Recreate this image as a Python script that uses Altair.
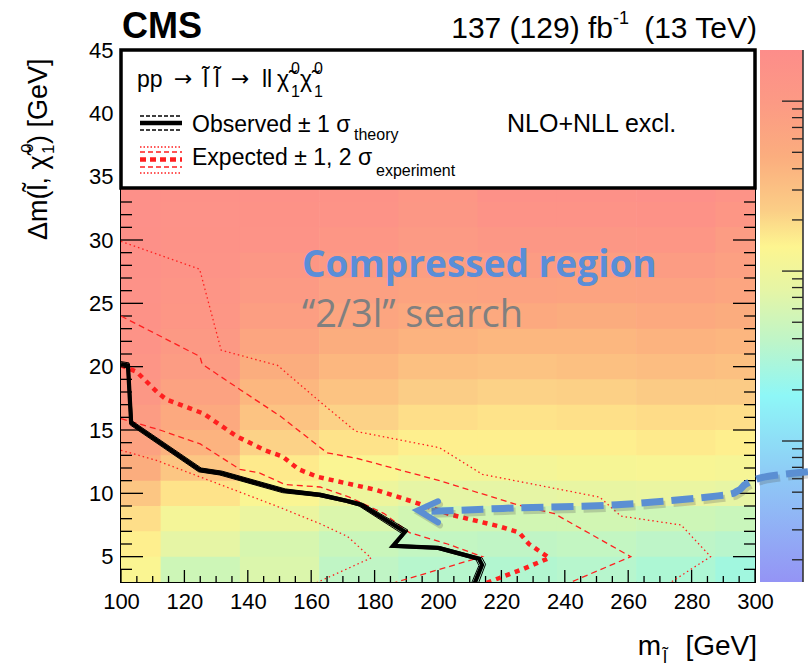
import math
import altair as alt
import pandas as pd

FONT = "Liberation Sans, Arial, Helvetica, sans-serif"
W, H = 634, 532
X_DOM = [100, 300]
Y_DOM = [3, 45]

# ---------------- data ----------------
# heat map: 25 GeV wide columns (centres) and 2 GeV tall rows (centres)
x_centers = [100, 125, 150, 175, 200, 225, 250, 275, 300]
y_centers = [4, 6, 8, 10, 12, 14, 16, 18, 20, 22, 24, 26, 28, 30, 32, 34]
# upper limit on the cross section (pb), per column, bottom -> top
limit_100 = [0.13, 0.15, 0.185, 0.27, 0.47, 0.72, 0.9, 1.12, 1.3, 1.4, 1.5, 1.55, 1.61, 1.67, 1.73, 1.73]
limit_125 = [0.054, 0.078, 0.112, 0.173, 0.27, 0.41, 0.54, 0.72, 0.9, 1.04, 1.21, 1.3, 1.4, 1.5, 1.55, 1.61]
limit_150 = [0.067, 0.063, 0.09, 0.129, 0.16, 0.215, 0.29, 0.38, 0.47, 0.63, 0.84, 0.97, 1.12, 1.4, 1.5, 1.61]
limit_175 = [0.041, 0.05, 0.067, 0.096, 0.129, 0.173, 0.215, 0.29, 0.38, 0.47, 0.63, 0.78, 0.97, 1.21, 1.4, 1.5]
limit_200 = [0.035, 0.044, 0.058, 0.078, 0.112, 0.15, 0.185, 0.23, 0.31, 0.41, 0.54, 0.68, 0.84, 0.97, 1.12, 1.21]
limit_225 = [0.033, 0.041, 0.058, 0.078, 0.112, 0.15, 0.173, 0.215, 0.29, 0.38, 0.54, 0.72, 0.9, 1.12, 1.4, 1.61]
limit_250 = [0.035, 0.044, 0.058, 0.084, 0.12, 0.15, 0.18, 0.22, 0.31, 0.38, 0.5, 0.68, 0.84, 1.12, 1.4, 1.61]
limit_275 = [0.031, 0.039, 0.054, 0.088, 0.125, 0.16, 0.19, 0.24, 0.33, 0.41, 0.54, 0.72, 0.9, 1.21, 1.5, 1.73]
limit_300 = [0.026, 0.036, 0.05, 0.08, 0.118, 0.15, 0.185, 0.24, 0.31, 0.39, 0.5, 0.63, 0.78, 0.9, 1.21, 1.4]
limit_cols = [limit_100, limit_125, limit_150, limit_175, limit_200, limit_225, limit_250, limit_275, limit_300]

# exclusion contours (m_slepton, delta m)
obs_x = [100, 102.2, 103.2, 124.9, 131.5, 151.4, 162.8, 171.3, 175.7, 189.6, 185.8, 200.0, 212.9, 213.9, 211.4]
obs_y = [20.2, 20.1, 15.56, 11.85, 11.6, 10.2, 9.88, 9.4, 9.1, 6.96, 5.85, 5.7, 4.83, 4.35, 2.8]
obs_up_x = [100, 102.5, 103.6, 125.3, 131.9, 151.8, 163.2, 171.8, 176.3, 190.5, 186.8, 200.6, 213.9, 215.0, 212.6]
obs_up_y = [20.4, 20.3, 15.7, 12.0, 11.75, 10.35, 10.0, 9.5, 9.2, 7.1, 5.95, 5.8, 4.9, 4.4, 2.8]
obs_dn_x = [100, 101.9, 102.9, 124.5, 131.1, 151.0, 162.4, 170.8, 175.1, 188.8, 185.0, 199.4, 212.0, 212.9, 210.4]
obs_dn_y = [20.0, 19.9, 15.4, 11.7, 11.45, 10.05, 9.75, 9.3, 9.0, 6.8, 5.75, 5.6, 4.75, 4.3, 2.8]

exp_x = [100, 104.9, 111.8, 114.4, 126.0, 136.5, 145.4, 151.0, 156.0, 162.0, 180.0, 192.6, 204.3, 219.2, 225.6, 228.7, 235.1, 226.6, 213.9]
exp_y = [20.1, 19.6, 17.9, 17.4, 16.3, 14.5, 13.4, 12.9, 11.9, 11.3, 10.3, 9.3, 8.3, 7.4, 6.9, 6.0, 4.9, 4.0, 2.8]
exp_p1_x = [100, 124.9, 125.6, 137.5, 150.2, 165.0, 174.6, 200.5, 225.0, 236.7, 260.8, 240.2]
exp_p1_y = [24.0, 20.8, 20.2, 18.2, 16.1, 13.2, 12.75, 11.0, 9.1, 8.4, 5.0, 2.8]
exp_m1_x = [100, 112.3, 125.0, 137.5, 143.8, 151.7, 162.8, 172.0, 183.0, 191.0, 203.0, 214.0, 184.3]
exp_m1_y = [15.9, 15.0, 13.9, 11.9, 11.6, 10.7, 10.5, 9.7, 8.4, 6.9, 6.0, 5.0, 2.8]
exp_p2_x = [100, 124.8, 131.6, 149.4, 162.0, 174.0, 200.5, 214.0, 251.0, 257.7, 276.7, 286.0, 272.3]
exp_p2_y = [29.9, 27.7, 21.3, 20.1, 17.4, 14.9, 13.6, 11.5, 9.7, 8.2, 7.5, 5.0, 2.8]
exp_m2_x = [100, 111.2, 137.5, 150.0, 162.8, 171.4, 178.9, 160.4]
exp_m2_y = [13.4, 12.6, 10.1, 8.9, 7.6, 6.6, 4.9, 2.8]

# annotation arrow
arrow_x = [316.7, 303.2, 297.2, 294.6, 288.3, 256.5, 224.6, 200.0, 195.5]
arrow_y = [11.7, 11.3, 10.75, 10.2, 9.8, 9.1, 8.85, 8.6, 8.65]
head_x = [200.0, 193.7, 200.0]
head_y = [9.37, 8.66, 7.71]

# axis ticks / labels
x_labels = [100, 120, 140, 160, 180, 200, 220, 240, 260, 280, 300]
x_minor = [v for v in range(105, 300, 5) if v % 20 != 0]
y_labels = [5, 10, 15, 20, 25, 30, 35, 40, 45]
y_major = [5, 10, 15, 20, 25, 30]
y_minor = [v for v in range(4, 34) if v % 5 != 0]

# colour bar (log scale, pb) and its ticks
cbar_domain = [0.00148, 0.00627, 0.01848, 0.038, 0.0781, 0.139, 0.2302, 0.4733, 0.9729, 2.0]
cbar_range = ["#9494f5", "#8ecaf6", "#8ef7f7", "#bdf5c9", "#e6f5a5", "#fdf590",
              "#fbcd86", "#fbad7e", "#fc9a84", "#fd8d8a"]
cbar_major = [0.01, 0.1, 1.0]
cbar_minor = [0.002, 0.003, 0.004, 0.005, 0.006, 0.007, 0.008, 0.009,
              0.02, 0.03, 0.04, 0.05, 0.06, 0.07, 0.08, 0.09,
              0.2, 0.3, 0.4, 0.5, 0.6, 0.7, 0.8, 0.9]

RED = "#ff1f1f"
BLUE = "#5b8fd3"

# ---------------- helpers ----------------
xsc = alt.Scale(domain=X_DOM, nice=False, zero=False, padding=0)
ysc = alt.Scale(domain=Y_DOM, nice=False, zero=False, padding=0)
csc = alt.Scale(type="log", domain=[cbar_domain[0], cbar_domain[-1]], nice=False)
GEV_PER_PX_X = (X_DOM[1] - X_DOM[0]) / W
GEV_PER_PX_Y = (Y_DOM[1] - Y_DOM[0]) / H
CB_X0, CB_X1 = W + 5, W + 48     # colour bar left / right edge (px)


def line_df(xs, ys):
    return pd.DataFrame({"x": xs, "y": ys, "i": list(range(len(xs)))})


def curve(xs, ys, color, width, dash=None, interp="linear", opacity=1.0,
          clip=True, xoff=0, yoff=0, cap="butt"):
    kw = dict(color=color, strokeWidth=width, interpolate=interp, clip=clip,
              opacity=opacity, strokeCap=cap)
    if dash:
        kw["strokeDash"] = dash
    if xoff:
        kw["xOffset"] = xoff
    if yoff:
        kw["yOffset"] = yoff
    return alt.Chart(line_df(xs, ys)).mark_line(**kw).encode(
        x=alt.X("x:Q", scale=xsc, axis=None),
        y=alt.Y("y:Q", scale=ysc, axis=None),
        order="i:Q",
    )


def xticks(values, length_px):
    df = pd.DataFrame({"v": values,
                       "a": [Y_DOM[0]] * len(values),
                       "b": [Y_DOM[0] + length_px * GEV_PER_PX_Y] * len(values)})
    return alt.Chart(df).mark_rule(color="black", strokeWidth=1.3).encode(
        x=alt.X("v:Q", scale=xsc, axis=None),
        y=alt.Y("a:Q", scale=ysc, axis=None), y2="b:Q")


def yticks(values, length_px, side):
    if side == "left":
        a, b = X_DOM[0], X_DOM[0] + length_px * GEV_PER_PX_X
    else:
        a, b = X_DOM[1] - length_px * GEV_PER_PX_X, X_DOM[1]
    df = pd.DataFrame({"v": values, "a": [a] * len(values), "b": [b] * len(values)})
    return alt.Chart(df).mark_rule(color="black", strokeWidth=1.3).encode(
        y=alt.Y("v:Q", scale=ysc, axis=None),
        x=alt.X("a:Q", scale=xsc, axis=None), x2="b:Q")


def cbticks(values, length_px):
    return alt.Chart(pd.DataFrame({"v": values})).mark_rule(
        color="#222222", strokeWidth=1.3).encode(
        y=alt.Y("v:Q", scale=csc, axis=None),
        x=alt.value(CB_X1 - length_px), x2=alt.value(CB_X1))


def txt(s, x, y, size, color="black", weight="normal", align="left", angle=0, font=FONT):
    kw = dict(align=align, baseline="alphabetic", fontSize=size, font=font,
              fontWeight=weight, color=color)
    if angle:
        kw["angle"] = angle
    return alt.Chart(pd.DataFrame({"t": [s]})).mark_text(**kw).encode(
        x=alt.value(x), y=alt.value(y), text="t:N")


def sample(y, color, width, dash=None, x0=19, x1=61):
    kw = dict(color=color, strokeWidth=width)
    if dash:
        kw["strokeDash"] = dash
    return alt.Chart(pd.DataFrame({"a": [0]})).mark_rule(**kw).encode(
        x=alt.value(x0), x2=alt.value(x1), y=alt.value(y))


# ---------------- heat map ----------------
rows = []
for xc, col in zip(x_centers, limit_cols):
    for yc, v in zip(y_centers, col):
        # cells overlap a hair so that no anti-aliasing seams show
        rows.append({"x0": xc - 12.5, "x1": xc + 12.7, "y0": yc - 1, "y1": yc + 1.06, "limit": v})
heat = pd.DataFrame(rows)

cscale = alt.Scale(type="log", domain=cbar_domain, range=cbar_range)

heat_layer = alt.Chart(heat).mark_rect(clip=True).encode(
    x=alt.X("x0:Q", scale=xsc,
            axis=alt.Axis(values=x_labels, ticks=False, domain=False, grid=False,
                          labelFont=FONT, labelFontSize=22, labelColor="black",
                          labelPadding=9, labelOverlap=False, labelFlush=False,
                          title=None)),
    x2="x1:Q",
    y=alt.Y("y0:Q", scale=ysc,
            axis=alt.Axis(values=y_labels, ticks=False, domain=False, grid=False,
                          labelFont=FONT, labelFontSize=22, labelColor="black",
                          labelPadding=8, labelOverlap=False, labelFlush=False,
                          title=None)),
    y2="y1:Q",
    color=alt.Color("limit:Q", scale=cscale, legend=None),
)

layers = [heat_layer]

# colour bar: same colour stops as the heat-map scale, placed on a log axis
lo, hi = math.log10(cbar_domain[0]), math.log10(cbar_domain[-1])
grad = alt.LinearGradient(
    gradient="linear", x1=0, x2=0, y1=1, y2=0,
    stops=[alt.GradientStop(offset=(math.log10(d) - lo) / (hi - lo), color=c)
           for d, c in zip(cbar_domain, cbar_range)])
layers.append(alt.Chart(pd.DataFrame({"a": [0]})).mark_rect(fill=grad).encode(
    x=alt.value(CB_X0), x2=alt.value(CB_X1), y=alt.value(0), y2=alt.value(H)))
layers.append(cbticks(cbar_major, 21))
layers.append(cbticks(cbar_minor, 11))
layers.append(alt.Chart(pd.DataFrame({"a": [0]})).mark_rule(
    color="#333333", strokeWidth=1.6).encode(
    x=alt.value(CB_X1), y=alt.value(0), y2=alt.value(H)))

# inward ticks
layers.append(xticks(x_labels, 12))
layers.append(xticks(x_minor, 6))
layers.append(yticks(y_major, 22, "left"))
layers.append(yticks(y_minor, 11, "left"))
layers.append(yticks(y_major, 22, "right"))
layers.append(yticks(y_minor, 11, "right"))

# expected contours
layers.append(curve(exp_p2_x, exp_p2_y, RED, 1.3, dash=[1.5, 3]))
layers.append(curve(exp_m2_x, exp_m2_y, RED, 1.3, dash=[1.5, 3]))
layers.append(curve(exp_p1_x, exp_p1_y, RED, 1.3, dash=[6, 4]))
layers.append(curve(exp_m1_x, exp_m1_y, RED, 1.3, dash=[6, 4]))
layers.append(curve(exp_x, exp_y, RED, 4.5, dash=[5, 5]))

# observed
layers.append(curve(obs_up_x, obs_up_y, "black", 1.0))
layers.append(curve(obs_dn_x, obs_dn_y, "black", 1.0))
layers.append(curve(obs_x, obs_y, "black", 4.2))

# annotation arrow with shadow
layers.append(curve(arrow_x, arrow_y, "#555555", 7, dash=[22, 8], interp="cardinal",
                    opacity=0.25, clip=False, xoff=2, yoff=3))
layers.append(curve(arrow_x, arrow_y, BLUE, 7, dash=[22, 8], interp="cardinal",
                    clip=False))
layers.append(curve(head_x, head_y, "#555555", 6, opacity=0.25, clip=False,
                    xoff=2, yoff=3, cap="round"))
layers.append(curve(head_x, head_y, BLUE, 6, clip=False, cap="round"))

# annotation text
layers.append(txt("Compressed region", 181, 227, 37, color="#5a8ed8", weight="bold",
                  font="Open Sans, Lato, sans-serif"))
layers.append(txt("\u201c2/3l\u201d search", 181, 277, 38, color="#808080",
                  font="Open Sans, Lato, sans-serif"))

# legend box
layers.append(alt.Chart(pd.DataFrame({"a": [0]})).mark_rect(
    fill="white", stroke="black", strokeWidth=3.5).encode(
    x=alt.value(0), x2=alt.value(W), y=alt.value(0), y2=alt.value(138)))

# legend content
ARROW_FONT = "DejaVu Sans, Liberation Sans, sans-serif"
layers.append(txt("pp", 16, 37, 23))
layers.append(txt("\u2192", 53, 36, 22, font=ARROW_FONT))
layers.append(txt("l\u0303 l\u0303", 82, 37, 23))
layers.append(txt("\u2192", 110, 36, 22, font=ARROW_FONT))
layers.append(txt("ll", 141, 37, 23))
layers.append(txt("\u03c7\u0303", 156, 37, 23))
layers.append(txt("0", 170, 24, 16))
layers.append(txt("1", 170, 47, 16))
layers.append(txt("\u03c7\u0303", 179, 37, 23))
layers.append(txt("0", 193, 24, 16))
layers.append(txt("1", 193, 47, 16))

layers.append(sample(66, "black", 1.5, dash=[4, 2]))
layers.append(sample(73, "black", 4.5))
layers.append(sample(80, "black", 1.5, dash=[4, 2]))
layers.append(txt("Observed \u00b1 1 \u03c3", 71, 82, 23))
layers.append(txt("theory", 233, 90, 16))

layers.append(sample(97, RED, 1.3, dash=[1.5, 2]))
layers.append(sample(102, RED, 1.3, dash=[5, 3]))
layers.append(sample(109.5, RED, 4.5, dash=[6, 4]))
layers.append(sample(117, RED, 1.3, dash=[5, 3]))
layers.append(sample(123, RED, 1.3, dash=[1.5, 2]))
layers.append(txt("Expected \u00b1 1, 2 \u03c3", 71, 115, 23))
layers.append(txt("experiment", 255, 126, 16))

layers.append(txt("NLO+NLL excl.", 386, 82, 25))

# header
layers.append(txt("CMS", 1, -12, 36, weight="bold"))
layers.append(txt("137 (129) fb", 492, -12, 30, align="right"))
layers.append(txt("-1", 508, -26, 18, align="right"))
layers.append(txt("(13 TeV)", 636, -12, 30, align="right"))

# axis titles
layers.append(txt("[GeV]", 636, 605, 28, align="right"))
layers.append(txt("m", 540, 605, 28, align="right"))
layers.append(txt("l\u0303", 542, 613, 18))

layers.append(txt("\u0394m(l\u0303, \u03c7\u0303", -74, 190, 27, angle=270))
layers.append(txt("0", -88, 103, 17, angle=270))
layers.append(txt("1", -67, 104, 17, angle=270))
layers.append(txt(") [GeV]", -74, 94, 27, angle=270))

chart = (
    alt.layer(*layers)
    .resolve_axis(x="independent", y="independent")
    .resolve_scale(y="independent")
    .properties(
        width=W, height=H,
        padding={"left": 121, "top": 50, "right": 53, "bottom": 88},
        autosize=alt.AutoSizeParams(type="none"),
        background="white",
    )
    .configure_view(stroke="black", strokeWidth=2)
)

chart.save("out.html", embed_options={"renderer": "svg", "actions": False})
